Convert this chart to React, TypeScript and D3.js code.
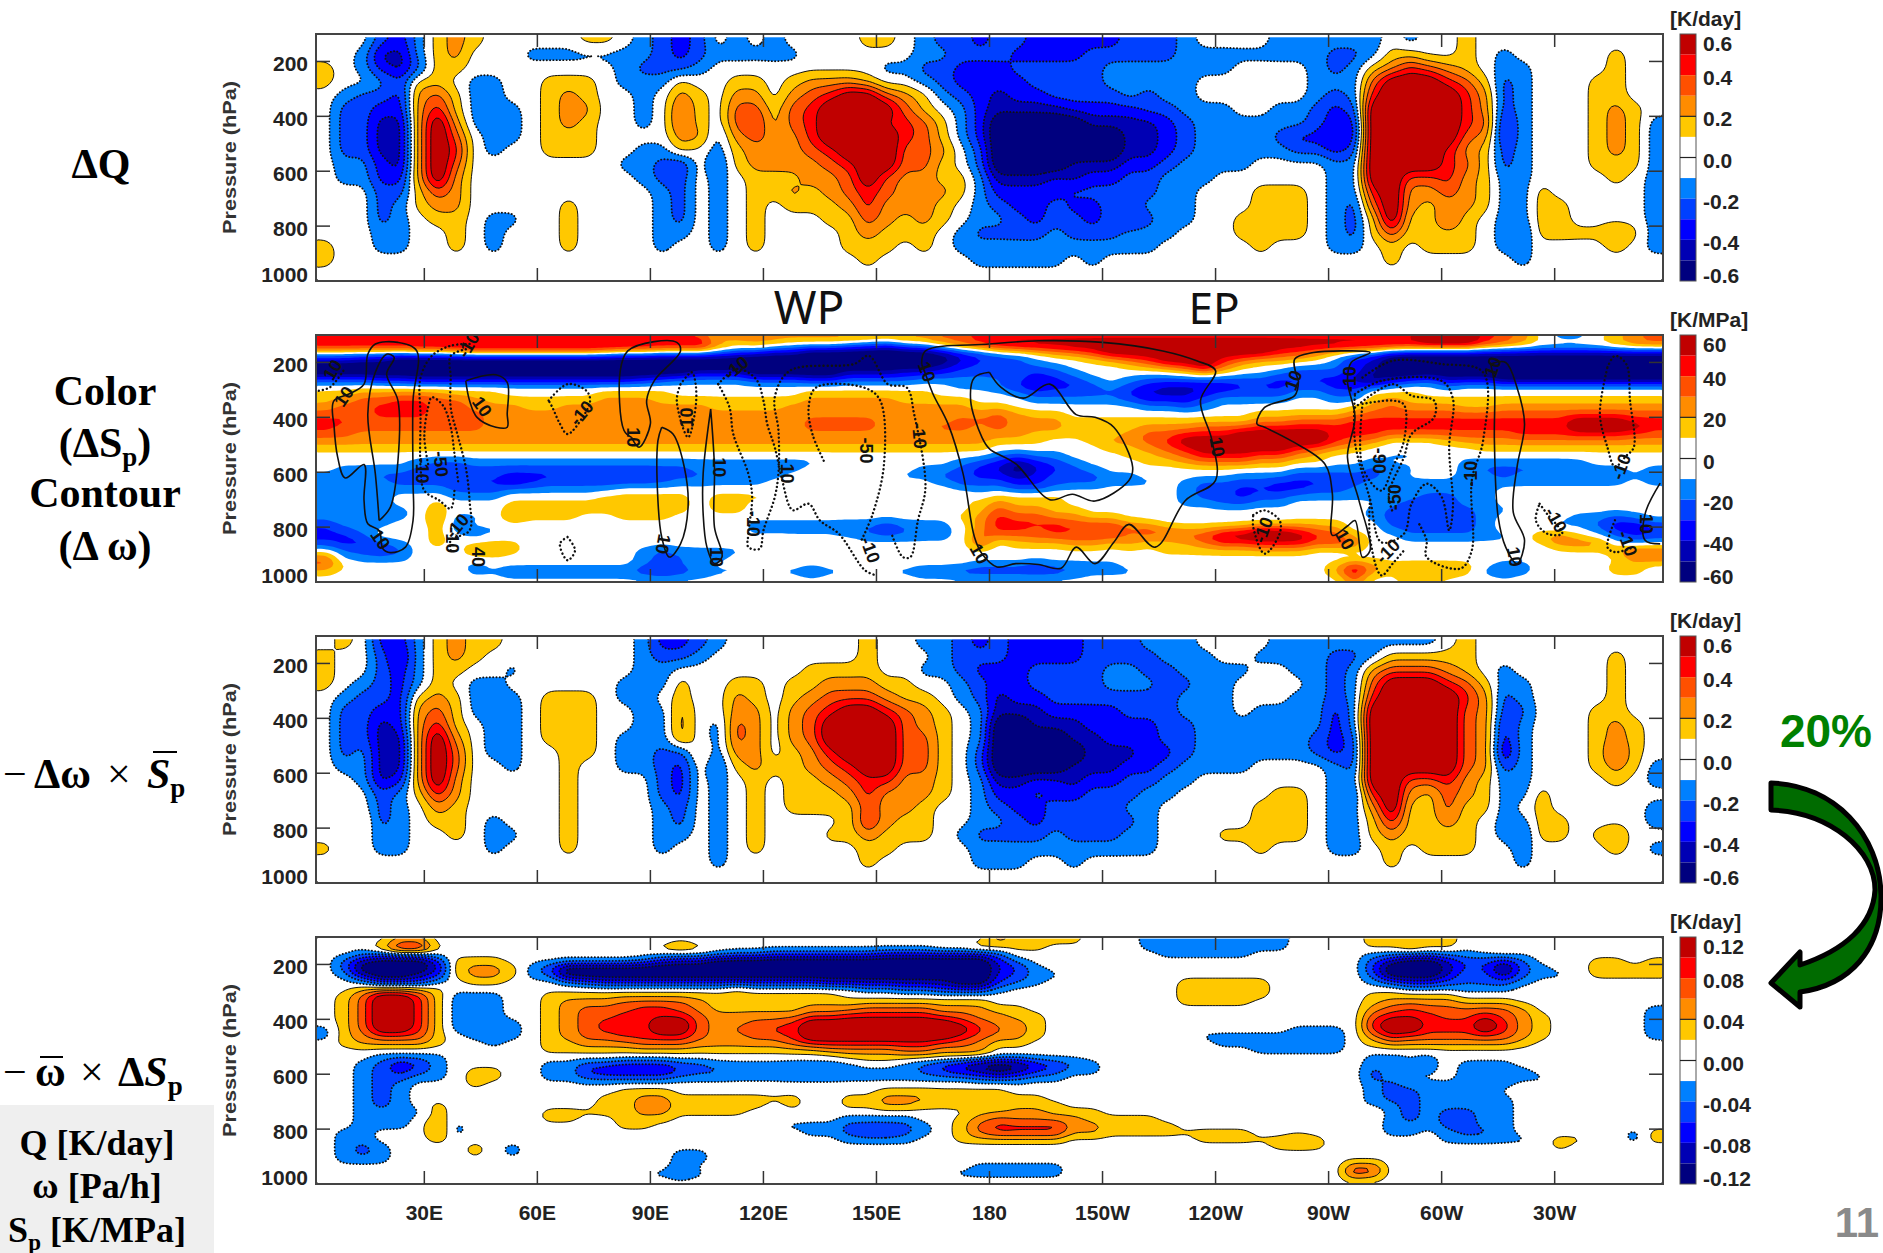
import React, { useMemo } from "react";
import * as d3 from "d3";

// band number per cell: 1..5 warm bands, a..e cool bands, . = white
const deltaQ = [
  "...bca121... ..11.abcb.a. a....11.abbc bbcccccbbba. ...aaaaaa.a. .1..........",
  "..adda12...a aaaaaabcbaaa aa......aabb bccccbbbbbaa aaaaaabba11. .1.a.....1..",
  "1.acdb11.... ....abbba... ......aabbcc cbbbbbaaaaaa a....aba1243 21.aa....1..",
  "1..ab11.aa.. 111.aaa1..11 .12221..abcc ccbbbbaaaaa. .....aaa3555 431ba...11..",
  ".abbc231aa.. 121..a.21.22 .23455321abc dccbbbbabaa. .....aba4555 542ba...11..",
  ".bbcc241aaa. 122..a.31.33 134555531.ac ddddccccbbaa a..aabcb5555 542ba...121.",
  ".bbdd252aaa. 121..a.31.34 1345554431ac eeeeeddddcba aaaaabcc5555 543ca...121a",
  ".bbdd253.aa. 111....22a23 2245555431ac eeeeeeeddcba aaabccdc5555 532ca...121a",
  ".bbdd254.a.. 111..aa1.a12 2234555332.b eeeeeeeddcba aaaabbcb5555 421ba...121a",
  ".aacd253.... ....aabc.b12 2223455331.b eeeedddccbaa aa....aa5555 431ba...111a",
  ".aacc252.... .....abb.a.1 11223532211a dddcdccbbaaa ......aa5533 421aa....1.a",
  "...bb132.... ......ab.a.1 12123432221a ccccbbbbbaa. ..111.aa4522 321aa1.....a",
  "...ba122.... .1....ab.a.1 .111242221.a bccbccbbaaa. ..111.ab3521 221aa11....a",
  "...ba.11.aa. .1....ab.a.1 ...1132121.a abcbbcbcbaa. .1111.ab1511 31.aa11....a",
  "...aa..1.a.. .1....aa.a.1 ....12111.ab bbbabbbaaa.. .1111.ab1311 11.ab111121a",
  "1..aa..1.a.. .1....a..a.1 ....111.1.aa aaaaaaaaa... ..1...aa.1.1 11.aa....1.a",
  "1........... ............ .....1.....a aaaa.a...... .........1.. ....a.......",
  "............ ............ ............ ............ ............ ............",
];

const deltaSp = [
  "333333333333 333333333122 222222222334 444444444444 444444444445 55432.aa.123",
  "555555555555 555555555312 1...abca.134 555555555555 555555555555 554321111233",
  ".....1123333 333211...abc ddeeeeeeedcb a.1234555555 5554321.acdd dddddddddddd",
  "ccddeeeeeeee eeeeeeeeeeee eeeeeeeeeedc bba..1234555 432221acdeee eeeeeeeeeeee",
  "eeeeeeeeeeee eeeeeeeeeeee eeeeeeeeedcb cbaa...12345 31..aaacdeee eeeeeeeeeeee",
  "eeeeeeeeeeee eeeeeeeeddde eeeedddcccbb bbcba.....12 1..abbbcdeee eeeeeeeeeeee",
  "bbbccddddddd dddddcbaaaab bbccbbbbaaaa abccba.abbbb bbbccccdedcb dddeeeeeeeee",
  "............ ............ ..........aa bcdccbabcddd dcccbbccba.. a...........",
  "1122222111.. ...1111..... ..1111111... .abbbbbcdddc bbbbaabb111. ............",
  "123344332111 111222111111 11222221111. ..aaaaabcccb aaaa..aa1211 111111111111",
  "233444332221 122222222111 122222222221 1.......aaba .......12322 211222222222",
  "333444333222 222222222222 222222222222 3211........ ..1111123333 333333333333",
  "443333333222 222222222222 223333222233 322211111111 112233344444 444444455544",
  "433333333222 222222222222 223333223332 322211112223 334444444444 444444455554",
  "332222222222 222222222222 222222222222 221111123344 455555444333 333344444433",
  "222222222222 222222222222 222222222222 111..1223455 555555432... 122222222222",
  "111111111111 111111111111 111111111111 ......112345 55554321.... ..1111111111",
  "............ ............ ............ abaa...11234 443321...aa. ............",
  ".....abbaaaa aaaaaaaaaaaa aaa.......ab cdcba...1123 332211..a... .aaaaaaa....",
  ".aaaabbbbbbb bbbbbbbbaaaa aa......aabc dedcba...... ....aaaabaa. .abbbbbaaa.a",
  "aaabbbbbbbcc ccccccbbbaaa a......aabbc cdcbbbaa.... .aaabbbbba.. .aabaaaaaaaa",
  "aaaabbbbccdc bbbbbbbaaaaa .........abb bccbbbaaa.ab bbbccccbaaaa aaaaaaaaaa.a",
  "aaaaaaabbbaa aaaa........ ..........aa abba......ab bccccbbaaaaa aaa.........",
  "aaaa...aaa.. ...11111.111 11....11111. 1111......ab bcbbaaaaaaab baa.........",
  "aaaa..1...11 11111111.11. ...........1 2111......aa bbaa.....abb baa.........",
  "aaaaa.1...11 11111111.11. ...........1 32211....... ........abbb bbaa........",
  "aaaaa.2aa.21 11..111..... ..........12 4332211..... ........abcb bba.1..aaba.",
  "baaa..1a.... ...........a aaaaaabaaa.2 444433321... ....111..bbb bba...aabccb",
  "cba...1aaa.. ...........a aaaabbcbaa.2 443444434322 3455432..abb bba.....acdc",
  "ccb...1.a... ............ .....aaaaa.3 223333322234 55555442..aa aaaa.231.abb",
  "bccba.1.111. ............ 1..........3 .11122121112 33444333.... ......233.a.",
  ".abcb...221. .....abaaaa. ............ .........111 11111....... .........243",
  "3aaaa....... .....abbaa.. ............ ............ ............ ..........23",
  "31......a... .....aba.... ...........a aabaaaa..... ......132111 11.aa....11.",
  "1.......aabb bbbbbcdcbaaa aabaaaaabbcc ccccbaaa.... ..a...252122 21aba....11.",
  "............ ............ ............ ............ .......2..11 ............",
];

const omegaTerm = [
  ".1.cca1211.. .....accba.. .....1..aabc bccccbbbaaa. ...aaaaaaaaa .1..........",
  "1..bda121... .....abba... .....1...abb bccccbbbbaaa ..aaaabba111 11.......1..",
  "1..bca11..a. .....aa..... ..1111..aabc ccbbbbaabbaa aa..aaba2333 21.a.....1..",
  "1.abca1.aa.. ....aaa1..11 .1122211..ab ccbbbbaaabba a....aba3555 431aa....1..",
  ".abbc121aaa. 111.aa.1..21 .12333211.ab dccbbbbbbbaa a...aaba4555 542ba....1..",
  ".bbcc231aaa. 111..aa2..22 .234554321.a dddccccbbbaa a.aaaaca5555 532bb...11..",
  ".bbdc241.aa. 111..aa2.a32 .235555321.a eedddccccbba aaaaaaca5555 532ca...121.",
  ".bbdd252.aa. 111.aaa2.a32 .235555331.a eeeeddcccbba aaaaabcb5555 532ca...121.",
  ".badd253.aa. .11.aabb1a22 .124555331.b eeeeedddccba aaaaabcb5555 532da...131.",
  ".aadd253..a. .1..aabc.b12 1123455331.b eeeedddccbaa aa....ab5555 532ba...121a",
  "..adc252.... .1....bc.a.1 .112344221.a ddccdccbbaa. ......aa5533 421aa....1.a",
  "...ba142.... .1....bc.a.1 .111242221.a ccbccbbbaa.. ...11.ab4521 321aa1......",
  "...ba.21.... .1....ab.a.1 .11113221..a bccbbbbaa... ..111.aa2511 311a.1.....a",
  "..1ba.11.a.. .1....ab.a.1 ....14211..a abcbbbbba... ..111.aa1411 21.aa11....a",
  "...aa..1.aa. .1....aa.a.1 ...112111.ab bbbabbbaa... 11111.aa1211 11.ab11.12..",
  "1..aa....a.. .1....a..a.1 .....11....a aaaaaaaaa... ..1...aa.1.1 11..a....1.a",
  "............ .........a.. .....1.....a aa..a....... .........1.. ....a.......",
  "............ ............ ............ ............ ............ ............",
];

const spTerm = [
  "....11...... ............ ............ 21111...aaaa aaaa....1111 1...........",
  "...2551..... ......121... .........112 111.....aaaa aaaa....1121 1.11........",
  "..aaaa...... ..........aa bbbbbbcccccc b........aaa aa......aaaa aaa.........",
  ".bdeeec111.. .....acddeee eeeeeeeeeeee ca.......... ........bdee dbbcb...11.1",
  ".beeeed1221a ceeeeeeeeeee eeeeeeeeeeee dca......... ........ceee dcceba..1111",
  ".adeedc1221a beeeeeeeeeee eeeeeeeeeeee cbaa........ ........beee dabdbaa.1111",
  "..accca.11.. .abccccccccc cccdddddddee cba.......11 111.....abcc bbbba.......",
  "..11111..... ..........1. .....aabbccc a.........11 111.......aa aaaa........",
  ".135541aaa.. 111111111111 1111........ ..........11 111.....1111 1...........",
  ".135541aaa.. 122233332111 111111111111 ..........11 11......1222 2111........",
  ".135541aaa.. 123334432111 112223333222 11.......... ........2343 33332......a",
  ".135541aaa.. 123344443222 223344444332 211......... ........3444 334321.....a",
  ".135541aaaa. 123444553223 345555555543 221......... ........4554 445421.....a",
  "a135541aaaa. 123444553233 445555555554 321......... ....aaa.4554 445421.....a",
  "a123331.aaa. 123344443223 345555555543 221........a aaaaaaa.2433 333321.....a",
  ".122221..a.. 112223332222 234444444332 11.......... aaaaaaa.1222 22221.......",
  "............ 111111111111 111222233222 ............ ..aaaaa..... ............",
  "...aaaa..... ............ ....11111111 ............ ........aaaa ............",
  "..abdca..... aabbcccbbaaa aaaaa..abcde eedcba...... ........aa.a .aaa........",
  "..abcba.11.. aacddddcbbaa abbbaaaabcdd edcbaa...... ........baaa .aaaa.......",
  "..abbaa.11.. aabbbbbaaaaa aaaaaaaaaaab bbaa........ ........ba.. .aaaaa......",
  "..aba...1... ............ ............ ............ ........abaa aaaa........",
  "..aba....... ....111..... ......111111 1........... ........abba aaa.........",
  "..aba....... ...112211111 11..11222111 111......... ........abba aaaa........",
  "..aba.1..... ...112211111 .1..11221111 1111........ ........aaba aaaa........",
  "..aaaa1..... 11111221111. ...........1 122111...... ........1aba bbaa........",
  "..aaa.1..... 11..111..... ....aaaa..12 322221111... .........aba bbaa........",
  "..aaa.2a.... ....11.....a aaaabbbba.13 4444221111.. .........aaa bbaa........",
  ".aa...2a..1. ............ ..aabccba.13 444422111111 11.......aa. abba......a1",
  ".aa...1..... ............ ....aaaa..11 1111.......1 111121...... aaaaa.11..a1",
  ".aba....1.a. ............ ............ ............ ...111...... ......1.....",
  ".aba....1.a. .......aa... ............ ............ ............ ............",
  ".aaa........ .......aa... ............ ............ ............ ............",
  "............ .......a.... ...........a aaaa........ .......33... ............",
  ".......a.... .....aaba... ....aaaaaaaa aaaa........ .......43... ............",
  "............ ............ ............ ............ ............ ............",
];

// delta omega contours as [lon, hPa]
const omegaPositive = [
  [[6,424],[7,545],[9,621],[14,572],[14,703],[15,788],[18,812],[19,879],[21,893],[25,873],[27,776],[27,630],[27,339],[28,158],[23,127],[17,133],[15,170],[14,279],[10,315],[6,340],[6,424]],
  [[18,776],[21,727],[23,558],[23,339],[20,242],[22,182],[20,170],[17,236],[15,388],[17,606],[18,776]],
  [[41,267],[49,245],[52,273],[52,388],[52,436],[49,436],[44,400],[42,339],[41,267]],
  [[85,473],[87,509],[90,424],[89,339],[91,267],[98,158],[97,127],[91,124],[84,158],[82,230],[83,448],[85,473]],
  [[93,436],[92,485],[92,703],[93,836],[95,909],[98,861],[100,727],[99,582],[96,461],[93,436]],
  [[106,370],[104,606],[104,751],[105,873],[107,933],[109,909],[107,800],[107,582],[106,370]],
  [[162,206],[163,242],[165,315],[169,424],[173,606],[176,836],[178,897],[182,945],[187,933],[193,936],[199,950],[203,873],[208,933],[213,855],[217,790],[224,873],[232,703],[240,630],[239,482],[236,339],[240,230],[235,194],[226,158],[210,127],[193,121],[180,133],[163,158],[162,206]],
  [[180,236],[176,255],[175,339],[178,473],[180,515],[187,570],[196,700],[202,680],[208,705],[217,630],[218,582],[213,436],[208,400],[203,390],[196,279],[189,330],[183,290],[180,236]],
  [[262,267],[261,188],[266,164],[274,158],[281,164],[276,200],[275,267],[277,400],[275,545],[278,700],[281,885],[279,910],[277,776],[275,796],[271,830],[271,679],[269,570],[260,485],[253,436],[251,424],[253,364],[261,321],[262,267]],
  [[313,206],[317,200],[320,291],[322,424],[320,582],[319,745],[322,848],[320,933],[317,873],[315,764],[314,485],[314,279],[313,206]],
  [[358,640],[354,752],[354,848],[358,861]],
];
const omegaNegative = [
  [[42,133],[37,139],[32,176],[29,255],[29,400],[29,582],[30,667],[34,703],[37,733],[38,667]],
  [[41,152],[37,176],[37,255],[37,364],[39,473],[41,582],[42,703],[42,812],[37,848],[37,885]],
  [[31,570],[30,470],[31,364],[32,327],[35,358],[37,436],[38,533],[39,636]],
  [[2,303],[5,290],[9,220]],
  [[63,339],[68,279],[73,303],[74,339],[72,400],[68,461],[66,424],[64,364],[63,339]],
  [[98,279],[101,236],[102,279],[102,364],[100,473],[97,339],[98,279]],
  [[108,279],[113,224],[118,260],[120,339],[121,424],[123,509],[125,630],[127,727],[128,739],[132,715],[135,776],[140,824],[147,958],[150,976]],
  [[108,279],[111,364],[112,461],[116,606],[117,691],[116,824],[116,873],[119,879],[120,812],[123,691],[124,600],[124,450],[123,327],[127,230],[144,206],[148,176],[153,279],[158,291],[160,388],[163,655],[161,776],[159,909],[157,909],[154,824]],
  [[136,558],[133,461],[132,364],[134,291],[147,293],[151,339],[152,570],[149,752],[146,848]],
  [[68,836],[66,860],[68,921],[70,885],[68,836]],
  [[344,218],[346,176],[349,206],[350,339],[351,509],[349,540],[346,580],[344,509],[342,388],[344,218]],
  [[346,775],[344,873],[346,891],[351,873]],
  [[250,756],[253,739],[257,776],[257,824],[253,897],[250,800],[250,756]],
  [[326,715],[328,752],[332,824],[328,824],[325,776],[326,715]],
  [[279,255],[287,194],[300,206],[311,236],[311,485],[308,630],[308,885],[305,951],[296,909],[296,848],[294,788]],
  [[277,315],[284,267],[300,267],[303,333],[302,509],[303,727],[302,812],[300,690],[296,642],[292,715],[290,824],[284,855],[281,700],[277,490],[277,315]],
  [[277,364],[287,279],[292,321],[298,339],[298,400],[292,461],[290,545],[286,679],[287,745]],
  [[279,351],[287,339],[290,354],[290,485],[287,582],[284,667],[279,582],[279,351]],
  [[281,700],[281,840],[284,976],[287,933],[290,885]],
];
const omegaLabels = [
  ["10",6,230,-60],["10",9,327,-55],["10",18,848,55],["-10",29,594,90],["-50",34,570,85],["-10",42,139,-60],["10",45,364,55],
  ["-10",72,388,-50],["10",85,473,90],["10",93,861,100],["-10",100,412,-90],["10",108,582,90],["-10",113,224,-40],["10",107,909,90],
  ["-10",117,788,90],["-10",126,594,90],["-50",147,521,90],["-10",161,467,85],["10",163,236,70],["10",177,900,60],["-10",39,800,-50],
  ["40",44,909,90],["-10",37,848,90],["-10",148,885,70],["10",240,509,80],["10",261,267,-70],["-10",276,261,-90],["-90",283,558,90],
  ["-50",288,691,-90],["-10",308,606,-90],["10",314,218,-70],["10",319,909,80],["-10",348,582,-70],["-10",330,776,60],["-10",253,812,-70],
  ["10",274,848,60],["-10",286,891,-45],["10",354,788,90],["-10",349,861,70],
];

const bandColors = ["#00007f", "#0000b4", "#0000ff", "#0040ff", "#0080ff", "#ffffff", "#ffc800", "#ff8c00", "#ff5000", "#ff0000", "#c00000"];
const bandEdges = [6, 5, 4, 3, 2, 1, -1, -2, -3, -4, -5, -6];
const thresholds = [-4.5, -3.5, -2.5, -1.5, -0.5, 0.5, 1.5, 2.5, 3.5, 4.5];

const lonTicks = [30, 60, 90, 120, 150, 180, 210, 240, 270, 300, 330];
const lonLabels = ["30E", "60E", "90E", "120E", "150E", "180", "150W", "120W", "90W", "60W", "30W"];
const pressureTicks = [200, 400, 600, 800, 1000];
const qLabels = ["0.6", "0.4", "0.2", "0.0", "-0.2", "-0.4", "-0.6"];
const spLabels = ["60", "40", "20", "0", "-20", "-40", "-60"];
const termLabels = ["0.12", "0.08", "0.04", "0.00", "-0.04", "-0.08", "-0.12"];

const LEFT = 316;
const RIGHT = 1663;
const PANEL_H = 247;
const BOLD = "'Liberation Sans', Arial, sans-serif";
const SERIF = "'Liberation Serif', 'Times New Roman', serif";

const x = d3.scaleLinear().domain([1.25, 358.75]).range([LEFT, RIGHT]);

// the outermost bands are open ended, so they count a bit past their edge
const bandValue = (c: string) => {
  if (c === "5") return 6;
  if (c === "e") return -6;
  if (c >= "1" && c <= "4") return +c;
  if (c >= "a" && c <= "d") return -(c.charCodeAt(0) - 96);
  return 0;
};

// upsample the hand-read grid and soften it a little so the contours come out round
function fineField(rows: string[], sx: number, sy: number, rx: number, ry: number) {
  const grid = rows.map((r) => Array.from(r.replace(/ /g, ""), bandValue));
  const n = 72;
  const m = grid.length;
  const w = n * sx;
  const h = m * sy;
  const data = new Float64Array(w * h);
  for (let j = 0; j < h; j++) {
    const v = Math.min(m - 1, Math.max(0, (j + 0.5) / sy - 0.5));
    const j0 = Math.floor(v);
    const j1 = Math.min(m - 1, j0 + 1);
    for (let i = 0; i < w; i++) {
      const u = Math.min(n - 1, Math.max(0, (i + 0.5) / sx - 0.5));
      const i0 = Math.floor(u);
      const i1 = Math.min(n - 1, i0 + 1);
      const a = grid[j0][i0] ?? 0;
      const b = grid[j0][i1] ?? 0;
      const c = grid[j1][i0] ?? 0;
      const d = grid[j1][i1] ?? 0;
      const fu = u - i0;
      const fv = v - j0;
      data[j * w + i] = (a * (1 - fu) + b * fu) * (1 - fv) + (c * (1 - fu) + d * fu) * fv;
    }
  }
  d3.blur2({ data, width: w, height: h }, rx, ry);
  return { data, w, h };
}

const Panel = ({ top, rows, sy, ry, lines, units, labels, blank, omega }: any) => {
  const bottom = top + PANEL_H;
  const y = d3.scaleLinear().domain([100, 1000]).range([top, bottom]);
  const id = `clip-${top}`;

  const shapes = useMemo(() => {
    const { data, w, h } = fineField(rows, 6, sy, 0.9, ry);
    const path = d3.geoPath(
      d3.geoTransform({
        point(px, py) {
          (this as any).stream.point(x(1.25 + (px / w) * 357.5), y(100 + (py / h) * 900));
        },
      })
    );
    const gen = d3.contours().size([w, h]);
    return thresholds.map((t) => ({ t, d: path(gen.contour(data as any, t) as any) || "" }));
  }, [rows]);

  const cb = d3.scaleLinear().domain([6, -6]).range([top, bottom]);
  const line = d3
    .line()
    .x((d: any) => x(d[0]))
    .y((d: any) => y(d[1]))
    .curve(d3.curveCatmullRom);

  return (
    <g>
      <clipPath id={id}>
        <rect x={LEFT} y={top} width={RIGHT - LEFT} height={PANEL_H} />
      </clipPath>
      <g clipPath={`url(#${id})`}>
        <rect x={LEFT} y={top} width={RIGHT - LEFT} height={PANEL_H} fill={bandColors[0]} />
        {shapes.map((s, i) => (
          <path key={s.t} d={s.d} fill={bandColors[i + 1]} />
        ))}
        {lines &&
          shapes.map((s) => (
            <path
              key={s.t}
              d={s.d}
              fill="none"
              stroke="#111"
              strokeWidth={s.t > 0 ? 1 : 1.9}
              strokeLinecap={s.t > 0 ? "butt" : "round"}
              strokeDasharray={s.t > 0 ? undefined : "0.1 3.2"}
            />
          ))}
        <rect x={LEFT} y={top} width={RIGHT - LEFT} height={y(blank) - top} fill="#fff" />
        {omega && (
          <g fill="none" stroke="#111">
            {omegaPositive.map((l, i) => (
              <path key={i} d={line(l as any) as string} strokeWidth={1.6} />
            ))}
            {omegaNegative.map((l, i) => (
              <path key={i} d={line(l as any) as string} strokeWidth={2.4} strokeLinecap="round" strokeDasharray="0.1 4" />
            ))}
          </g>
        )}
        {omega &&
          omegaLabels.map((l: any, i) => (
            <text
              key={i}
              transform={`translate(${x(l[1])},${y(l[2])}) rotate(${l[3]})`}
              textAnchor="middle"
              dominantBaseline="middle"
              fontFamily={BOLD}
              fontWeight={700}
              fontSize={18}
              fill="#111"
            >
              {l[0]}
            </text>
          ))}
      </g>

      {/* frame and ticks */}
      <rect x={LEFT} y={top} width={RIGHT - LEFT} height={PANEL_H} fill="none" stroke="#444" strokeWidth={2} />
      {lonTicks.map((t) => (
        <g key={t} stroke="#333" strokeWidth={1.5}>
          <line x1={x(t)} x2={x(t)} y1={top} y2={top + 13} />
          <line x1={x(t)} x2={x(t)} y1={bottom} y2={bottom - 13} />
        </g>
      ))}
      {pressureTicks.slice(0, 4).map((p) => (
        <g key={p} stroke="#333" strokeWidth={1.5}>
          <line x1={LEFT} x2={LEFT + 14} y1={y(p)} y2={y(p)} />
          <line x1={RIGHT} x2={RIGHT - 14} y1={y(p)} y2={y(p)} />
        </g>
      ))}
      {pressureTicks.map((p) => (
        <text key={p} x={308} y={y(p) + (p === 1000 ? 1 : 9.5)} textAnchor="end" fontFamily={BOLD} fontWeight={700} fontSize={21} fill="#222">
          {p}
        </text>
      ))}
      <text
        transform={`translate(236,${(top + bottom) / 2}) rotate(-90)`}
        textAnchor="middle"
        fontFamily={BOLD}
        fontWeight={700}
        fontSize={19}
        textLength={153}
        lengthAdjust="spacingAndGlyphs"
        fill="#333"
      >
        Pressure (hPa)
      </text>

      {/* colour bar */}
      {bandColors
        .slice()
        .reverse()
        .map((c, i) => (
          <rect key={c} x={1680} y={cb(bandEdges[i])} width={16} height={cb(bandEdges[i + 1]) - cb(bandEdges[i])} fill={c} />
        ))}
      <rect x={1680} y={top} width={16} height={PANEL_H} fill="none" stroke="#555" strokeWidth={1} />
      {[2, 0].map((v) => (
        <line key={v} x1={1680} x2={1696} y1={cb(v)} y2={cb(v)} stroke="#222" strokeWidth={1.2} />
      ))}
      {labels.map((l: string, i: number) => (
        <text
          key={l}
          x={1703}
          y={Math.min(bottom - 6, Math.max(top + 9, cb(6 - i * 2) + 2)) + 8}
          fontFamily={BOLD}
          fontWeight={700}
          fontSize={21}
          fill="#222"
        >
          {l}
        </text>
      ))}
      <text x={1670} y={top - 8} fontFamily={BOLD} fontWeight={700} fontSize={21} fill="#222">
        {units}
      </text>
    </g>
  );
};

const App = () => {
  const serifBold = { fontFamily: SERIF, fontWeight: 700, fill: "#000" };
  return (
    <svg width={1883} height={1253} style={{ position: "absolute", left: 0, top: 0, background: "#fff" }}>
      <rect x={0} y={1105} width={214} height={148} fill="#efefef" />

      <Panel top={34} rows={deltaQ} sy={4} ry={1.2} lines units="[K/day]" labels={qLabels} blank={112} />
      <Panel top={335} rows={deltaSp} sy={2} ry={0.6} units="[K/MPa]" labels={spLabels} blank={103} omega />
      <Panel top={636} rows={omegaTerm} sy={4} ry={1.2} lines units="[K/day]" labels={qLabels} blank={112} />
      <Panel top={937} rows={spTerm} sy={2} ry={0.6} lines units="[K/day]" labels={termLabels} blank={106} />

      {lonLabels.map((l, i) => (
        <text key={l} x={x(lonTicks[i])} y={1220} textAnchor="middle" fontFamily={BOLD} fontWeight={700} fontSize={21} fill="#222">
          {l}
        </text>
      ))}

      <text x={809} y={324} textAnchor="middle" fontFamily="'Noto Sans', sans-serif" fontSize={46} fill="#111">WP</text>
      <text x={1214} y={324} textAnchor="middle" fontFamily="'Noto Sans', sans-serif" fontSize={44} fill="#111">EP</text>

      {/* row captions */}
      <text x={101} y={178} textAnchor="middle" fontSize={42} {...serifBold}>ΔQ</text>
      <text x={105} y={405} textAnchor="middle" fontSize={42} {...serifBold}>Color</text>
      <text x={105} y={457} textAnchor="middle" fontSize={42} {...serifBold}>
        (ΔS<tspan fontSize={27} dy={9}>p</tspan><tspan dy={-9}>)</tspan>
      </text>
      <text x={105} y={507} textAnchor="middle" fontSize={42} {...serifBold}>Contour</text>
      <text x={105} y={560} textAnchor="middle" fontSize={42} {...serifBold}>(Δ ω)</text>

      <text y={788} fontSize={42} {...serifBold}>
        <tspan x={3} fontWeight={400}>−</tspan>
        <tspan x={34}>Δω</tspan>
        <tspan x={107} fontWeight={400}>×</tspan>
        <tspan x={147} fontStyle="italic">S</tspan>
        <tspan fontSize={27} dy={9}>p</tspan>
      </text>
      <line x1={153} x2={177} y1={752} y2={752} stroke="#000" strokeWidth={2} />
      <text y={1086} fontSize={42} {...serifBold}>
        <tspan x={3} fontWeight={400}>−</tspan>
        <tspan x={35}>ω</tspan>
        <tspan x={80} fontWeight={400}>×</tspan>
        <tspan x={118}>Δ</tspan>
        <tspan fontStyle="italic">S</tspan>
        <tspan fontSize={27} dy={9}>p</tspan>
      </text>
      <line x1={40} x2={63} y1={1057} y2={1057} stroke="#000" strokeWidth={2} />

      <text x={97} y={1155} textAnchor="middle" fontSize={36} {...serifBold}>Q [K/day]</text>
      <text x={97} y={1198} textAnchor="middle" fontSize={36} {...serifBold}>ω [Pa/h]</text>
      <text x={97} y={1242} textAnchor="middle" fontSize={36} {...serifBold}>
        S<tspan fontSize={23} dy={8}>p</tspan><tspan dy={-8}> [K/MPa]</tspan>
      </text>

      {/* 20% arrow */}
      <text x={1826} y={747} textAnchor="middle" fontFamily={BOLD} fontWeight={700} fontSize={46} fill="#008000">20%</text>
      <path
        d="M1771,783 C1835,785 1880,835 1881,895 C1882,950 1850,985 1800,992 L1800,1007 L1771,983 L1800,952 L1800,965 C1845,950 1873,925 1875,890 C1875,850 1830,812 1771,810 Z"
        fill="#006b00"
        stroke="#000"
        strokeWidth={5}
        strokeLinejoin="round"
      />
      <text x={1857} y={1237} textAnchor="middle" fontFamily={BOLD} fontWeight={700} fontSize={42} fill="#8a8a8a">11</text>
    </svg>
  );
};

export default App;
